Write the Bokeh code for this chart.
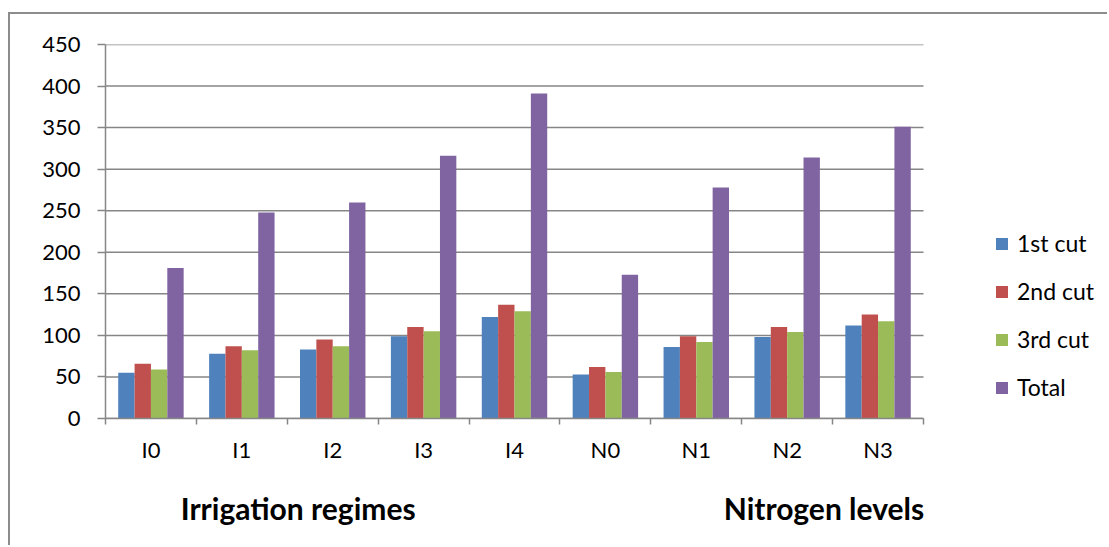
import numpy as np
from bokeh.plotting import figure
from bokeh.models import Range1d, FixedTicker, Legend, LegendItem, LinearAxis
from bokeh.embed import file_html
from bokeh.resources import INLINE

# Yield per cut and total for each treatment
categories = ["I0", "I1", "I2", "I3", "I4", "N0", "N1", "N2", "N3"]
cut1 = [55, 78, 83, 99, 122, 53, 86, 98, 112]
cut2 = [66, 87, 95, 110, 137, 62, 99, 110, 125]
cut3 = [59, 82, 87, 105, 129, 56, 92, 104, 117]
total = [181, 248, 260, 316, 391, 173, 278, 314, 351]
series_names = ["1st cut", "2nd cut", "3rd cut", "Total"]
series_colors = ["#4F81BD", "#C0504D", "#9BBB59", "#8064A2"]
y_ticks = [0, 50, 100, 150, 200, 250, 300, 350, 400, 450]
group_titles = ["Irrigation regimes", "Nitrogen levels"]
group_title_pos = [2.12, 7.905]

FONT = "Lato"
GREY = "#868686"

# plot area: the category axis spans 818 px, the legend sits to its right
# inside the same frame, so the x range runs a little past the last category
n = len(categories)
axis_px, frame_px = 818, 994
x_end = n * frame_px / axis_px

p = figure(width=1099, height=533, x_range=Range1d(0, x_end),
           y_range=Range1d(0, 450), output_backend="svg",
           toolbar_location=None, min_border_left=95, min_border_right=10,
           min_border_top=30, min_border_bottom=129)
p.styles = {"border-left": "2px solid #8c8c8c", "border-top": "2px solid #8c8c8c",
            "margin-left": "8px", "margin-top": "12px"}
p.outline_line_color = None
p.background_fill_color = "white"
p.border_fill_color = "white"
p.grid.grid_line_color = None

# horizontal grid lines, limited to the category span
p.segment(x0=0, x1=n, y0=y_ticks, y1=y_ticks, line_color=GREY, line_width=1.5)

# y axis
p.yaxis.ticker = FixedTicker(ticks=y_ticks)
p.yaxis.axis_line_color = GREY
p.yaxis.axis_line_width = 1.5
p.yaxis.major_tick_line_color = GREY
p.yaxis.major_tick_line_width = 1.5
p.yaxis.major_tick_in = 0
p.yaxis.major_tick_out = 8
p.yaxis.minor_tick_line_color = None
p.yaxis.major_label_standoff = 17
p.yaxis.major_label_text_font = FONT
p.yaxis.major_label_text_font_size = "22px"
p.yaxis.major_label_text_color = "black"

# x axis: labels centred on categories, tick marks on category boundaries
centers = np.arange(n) + 0.5
p.xaxis.ticker = FixedTicker(ticks=list(centers), minor_ticks=list(range(n + 1)))
p.xaxis.bounds = (0, n)
p.xaxis.major_label_overrides = {float(c): cat for c, cat in zip(centers, categories)}
p.xaxis.major_tick_line_color = None
p.xaxis.major_tick_in = 0
p.xaxis.major_tick_out = 0
p.xaxis.minor_tick_line_color = GREY
p.xaxis.minor_tick_line_width = 1.5
p.xaxis.minor_tick_in = 0
p.xaxis.minor_tick_out = 6
p.xaxis.axis_line_color = GREY
p.xaxis.axis_line_width = 1.5
p.xaxis.major_label_standoff = 11
p.xaxis.major_label_text_font = FONT
p.xaxis.major_label_text_font_size = "22px"
p.xaxis.major_label_text_color = "black"

# second row of labels naming the two treatment groups
groups_axis = LinearAxis(ticker=FixedTicker(ticks=group_title_pos),
                         major_label_overrides={p_: t for p_, t in
                                                zip(group_title_pos, group_titles)},
                         axis_line_color=None, major_tick_line_color=None,
                         minor_tick_line_color=None, major_label_standoff=18,
                         major_label_text_font=FONT,
                         major_label_text_font_style="bold",
                         major_label_text_font_size="30px",
                         major_label_text_color="black")
p.add_layout(groups_axis, "below")

# clustered bars
bar_w = 0.18
offsets = [-1.5 * bar_w, -0.5 * bar_w, 0.5 * bar_w, 1.5 * bar_w]
items = []
for vals, name, color, off in zip([cut1, cut2, cut3, total], series_names,
                                  series_colors, offsets):
    r = p.vbar(x=centers + off, top=vals, width=bar_w, bottom=0,
               fill_color=color, line_color=None)
    items.append(LegendItem(label=name, renderers=[r]))

legend = Legend(items=items, location=(889, 17), orientation="vertical",
                glyph_width=15, glyph_height=15, label_standoff=8,
                spacing=20, padding=0, margin=0, border_line_color=None,
                background_fill_alpha=0, label_text_font=FONT,
                label_text_font_size="23px", label_text_color="black")
p.add_layout(legend, "center")

open("out.html", "w").write(file_html(p, INLINE))
